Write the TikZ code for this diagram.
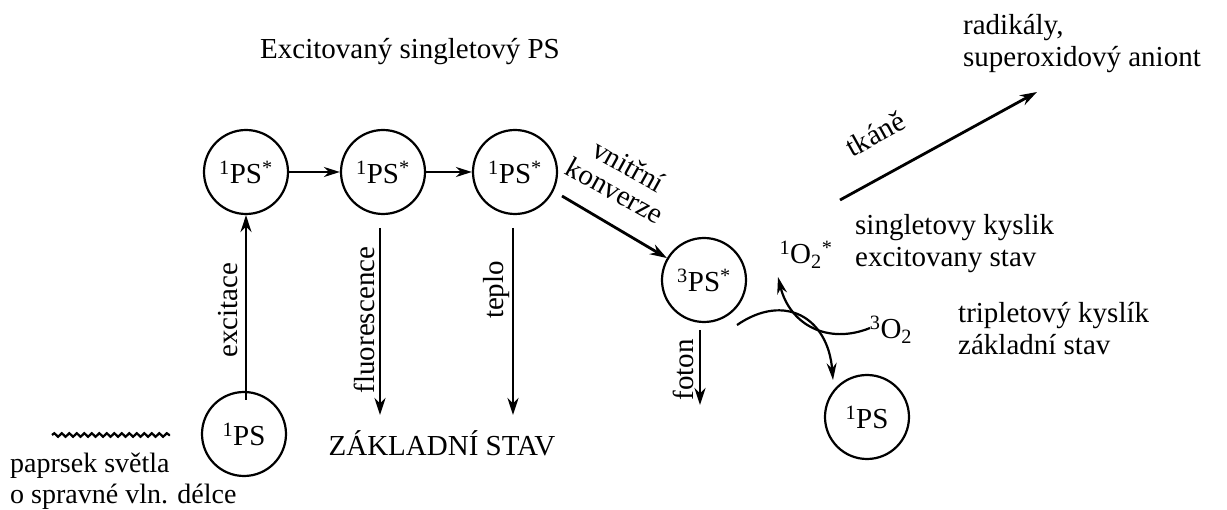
\documentclass[tikz,border=0pt]{standalone}
\usepackage{fontspec}
\setmainfont{Liberation Serif}
\usetikzlibrary{arrows.meta,decorations.pathmorphing}
\begin{document}
\begin{tikzpicture}[x=1pt,y=-1pt,
  every node/.style={font=\fontsize{29}{32}\selectfont, inner sep=0pt},
  circ/.style={draw, circle, line width=2.2pt, minimum size=84pt},
  arr/.style={line width=2.8pt, -{Stealth[length=17pt,width=11pt]}},
  sarr/.style={line width=2.8pt, -{Stealth[length=16pt,width=10pt]}},
  carr/.style={line width=2.2pt, -{Stealth[length=17pt,width=10pt]}}]
\useasboundingbox (0,0) rectangle (1227,510);

\node (title) at (410,52) {Excitovaný singletový PS};

\node[circ] (a) at (246,172) {\textsuperscript{1}PS\textsuperscript{*}};
\node[circ] (b) at (383,172) {\textsuperscript{1}PS\textsuperscript{*}};
\node[circ] (c) at (515,172) {\textsuperscript{1}PS\textsuperscript{*}};
\node[circ] (t) at (704,280) {\textsuperscript{3}PS\textsuperscript{*}};
\node[circ] (g) at (244,434) {\textsuperscript{1}PS};
\node[circ] (h) at (867,417) {\textsuperscript{1}PS};

\draw[sarr] (a) -- (b);
\draw[sarr] (b) -- (c);

% excitace
\coordinate (exs) at (246,400);
\draw[arr] (exs) -- (a);
\node[rotate=90] (exl) at (228,310) {excitace};

% fluorescence
\coordinate (fls) at (380,228);
\coordinate (fle) at (380,415);
\draw[arr] (fls) -- (fle);
\node[rotate=90] (fll) at (364,320) {fluorescence};

% teplo
\coordinate (tps) at (513,228);
\coordinate (tpe) at (513,415);
\draw[arr] (tps) -- (tpe);
\node[rotate=90] (tpl) at (497,290) {teplo};

\node (zs) at (442,443) {ZÁKLADNÍ STAV};

% vnitrni konverze
\coordinate (vks) at (562,196);
\draw[arr] (vks) -- (t);
\node[rotate=-29, align=center, font=\fontsize{29}{28}\selectfont] (vkl) at (622,178) {vnitřní\\konverze};

% foton
\coordinate (fos) at (700,330);
\coordinate (foe) at (700,405);
\draw[arr] (fos) -- (foe);
\node[rotate=90] (fol) at (683,370) {foton};

% oxygen
\node (o1) at (806,255) {\textsuperscript{1}O\textsubscript{2}\textsuperscript{*}};
\node[align=left, anchor=west] (o1t) at (855,244) {singletovy kyslik\\excitovany stav};
\node (o3) at (891,330) {\textsuperscript{3}O\textsubscript{2}};
\node[align=left, anchor=west] (o3t) at (958,329) {tripletový kyslík\\základní stav};

\coordinate (c1s) at (737,325);
\draw[carr] (c1s) .. controls (785,292) and (828,318) .. (833,380);
\coordinate (c2s) at (870,328);
\draw[carr] (c2s) .. controls (828,345) and (790,325) .. (778,277);

% tkane
\coordinate (tks) at (840,200);
\coordinate (tke) at (1037,92);
\draw[arr] (tks) -- (tke);
\node[rotate=29] (tkl) at (875,134) {tkáně};
\node[align=left, anchor=west] (rad) at (963,44) {radikály,\\superoxidový aniont};

% light
\coordinate (ws) at (52,435);
\coordinate (we) at (170,435);
\draw[line width=2.2pt, decorate, decoration={snake, amplitude=1.8pt, segment length=7.5pt}] (ws) -- (we);
\node[align=left, anchor=west, font=\fontsize{28}{31}\selectfont] (lt) at (10,481) {paprsek světla\\o spravné vln. délce};
\end{tikzpicture}
\end{document}
